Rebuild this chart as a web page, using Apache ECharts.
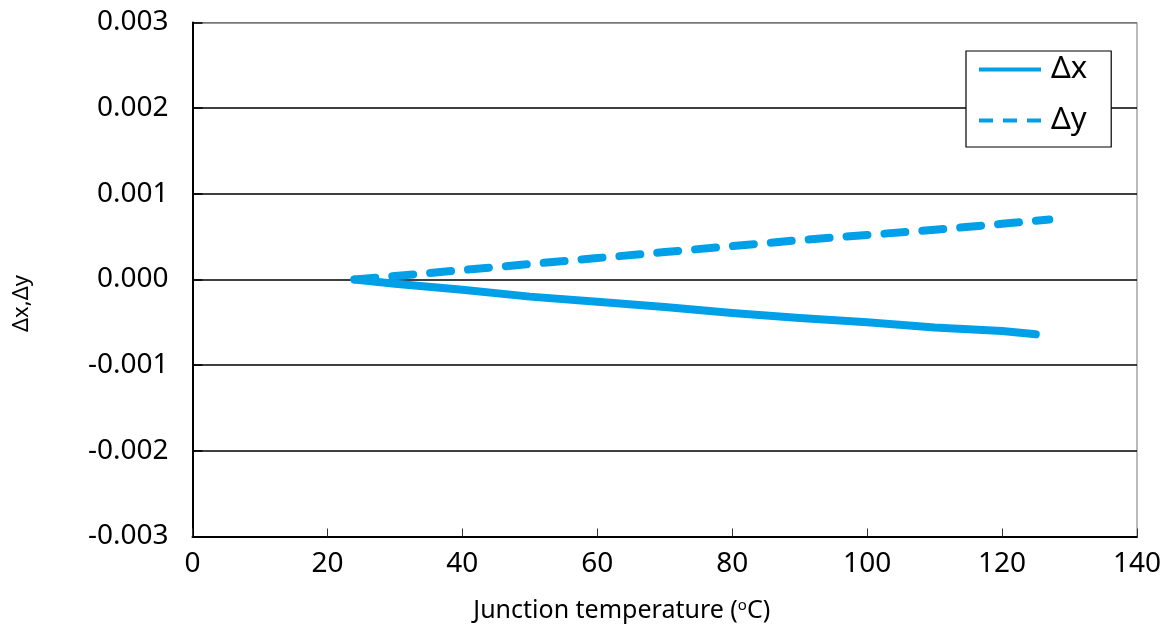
<!DOCTYPE html>
<html>
<head>
<meta charset="utf-8">
<script src="https://cdn.jsdelivr.net/npm/echarts@6/dist/echarts.min.js"></script>
<style>
html,body{margin:0;padding:0;background:#fff;}
#chart{width:1166px;height:633px;}
</style>
</head>
<body>
<div id="chart"></div>
<script>
// Junction temperature (°C) and chromaticity shifts
const tempX = [24, 30, 40, 50, 60, 70, 80, 90, 100, 110, 120, 125];
const deltaX = [0, -0.00005, -0.00012, -0.00020, -0.00026, -0.00032, -0.00039, -0.00045, -0.00050, -0.00056, -0.00060, -0.00064];
const tempY = [24, 30, 40, 50, 60, 70, 80, 90, 100, 110, 120, 127];
const deltaY = [0, 0.00004, 0.00011, 0.00018, 0.00025, 0.00032, 0.00039, 0.00046, 0.00052, 0.00058, 0.00065, 0.00070];
const seriesNames = ['Δx', 'Δy'];
const xTicks = [0, 20, 40, 60, 80, 100, 120, 140];
const yTicks = [-0.003, -0.002, -0.001, 0, 0.001, 0.002, 0.003];

const FONT = 'Noto Sans';
const BLUE = '#00a0e9';

const chart = echarts.init(document.getElementById('chart'), null, {renderer: 'canvas'});
chart.setOption({
  animation: false,
  backgroundColor: '#fff',
  textStyle: {fontFamily: FONT, color: '#000'},
  grid: {
    left: 192.5, right: 29, top: 22.5, bottom: 96.5,
    show: true, borderColor: '#777', borderWidth: 1
  },
  legend: {
    orient: 'vertical',
    left: 966, top: 51,
    padding: [3, 24, 11, 11],
    itemWidth: 62, itemHeight: 30, itemGap: 20,
    borderColor: '#000', borderWidth: 1.2,
    backgroundColor: '#fff',
    textStyle: {fontFamily: FONT, fontSize: 31, color: '#000', padding: [5, 0, 0, 5]},
    data: [
      {name: seriesNames[0], itemStyle: {opacity: 0}, lineStyle: {width: 4, type: 'solid', cap: 'butt', opacity: 1}},
      {name: seriesNames[1], itemStyle: {opacity: 0}, lineStyle: {width: 4, type: [14, 10], cap: 'butt', opacity: 1}}
    ]
  },
  xAxis: {
    type: 'value',
    min: xTicks[0], max: xTicks[xTicks.length - 1], interval: 20,
    name: 'Junction temperature ({s|o}C)',
    nameLocation: 'middle', nameGap: 62,
    nameTextStyle: {fontFamily: FONT, fontSize: 25, color: '#000', padding: [0, 86, 0, 0],
      rich: {s: {fontSize: 15, verticalAlign: 'top', padding: [0, 0, 10, 0], fontFamily: FONT, color: '#000'}}},
    axisLine: {show: true, onZero: false, lineStyle: {color: '#000', width: 2}},
    axisTick: {show: true, inside: true, length: 8, lineStyle: {color: '#333', width: 1}},
    axisLabel: {fontFamily: FONT, fontSize: 28, color: '#000', margin: 14},
    splitLine: {show: false}
  },
  yAxis: {
    type: 'value',
    min: yTicks[0], max: yTicks[yTicks.length - 1], interval: 0.001,
    name: 'Δx,Δy',
    nameLocation: 'middle', nameGap: 160, nameRotate: 90,
    nameTextStyle: {fontFamily: FONT, fontSize: 22, color: '#000', padding: [0, 48, 0, 0]},
    axisLine: {show: true, onZero: false, lineStyle: {color: '#000', width: 2}},
    axisTick: {show: true, inside: true, length: 10, lineStyle: {color: '#000', width: 1.5}},
    axisLabel: {fontFamily: FONT, fontSize: 28, color: '#000', margin: 24,
      formatter: v => v.toFixed(3)},
    splitLine: {show: true, lineStyle: {color: ['#000', '#000', '#000', '#000', '#000', '#000', '#777'], width: 1.5}}
  },
  series: [
    {
      name: seriesNames[0], type: 'line', symbol: 'none', color: BLUE,
      data: tempX.map((t, i) => [t, deltaX[i]]),
      lineStyle: {color: BLUE, width: 8, type: 'solid', cap: 'round', join: 'round'},
      z: 3
    },
    {
      name: seriesNames[1], type: 'line', symbol: 'none', color: BLUE,
      data: tempY.map((t, i) => [t, deltaY[i]]),
      lineStyle: {color: BLUE, width: 8, type: [21, 17], cap: 'round', join: 'round'},
      z: 3
    }
  ]
});
</script>
</body>
</html>
